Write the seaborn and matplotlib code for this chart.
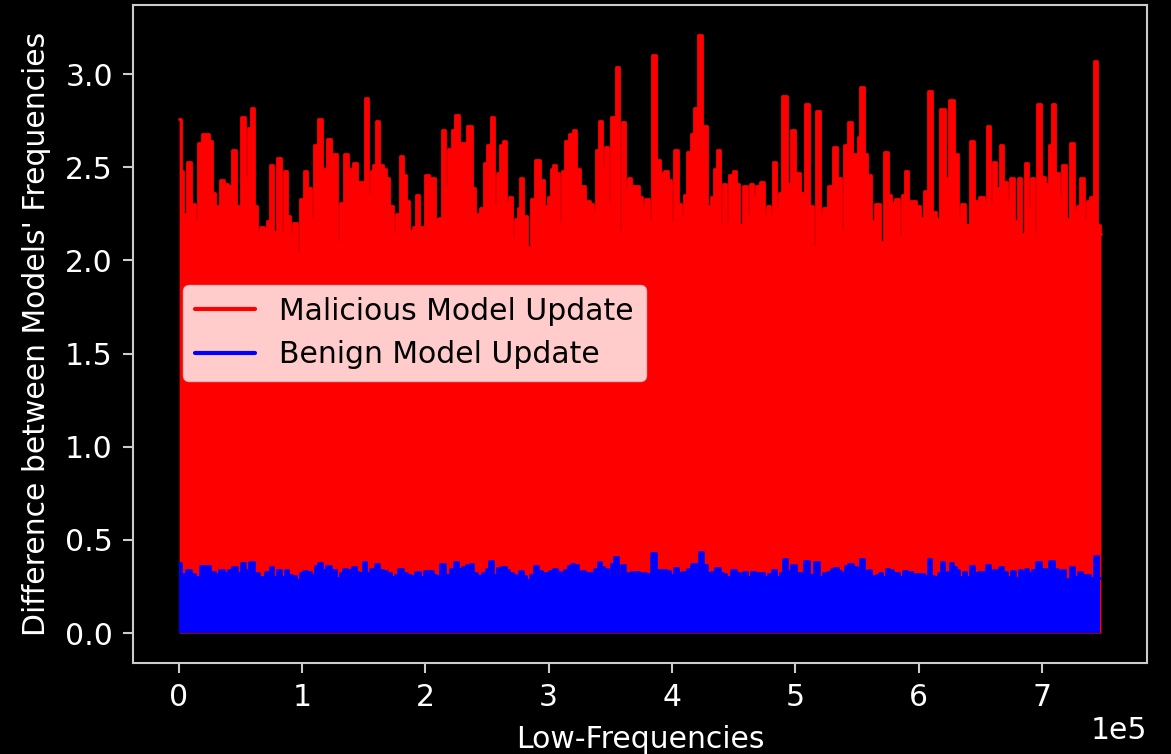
import numpy as np
import pandas as pd
import matplotlib
matplotlib.use("Agg")
import matplotlib.pyplot as plt
import seaborn as sns

# ---- data (upper envelope of the dense signals) ----
# positions are in thousands of low-frequency coefficients
malicious_pos_k = [
    0.4, 2.8, 4.2, 5.8, 8.5, 11.6, 14.7, 17.4, 20.1, 23.5, 26.2, 28.2, 30.1, 32.4, 35.5, 38.6,
    41.3, 44.7, 48.4, 52.1, 55.2, 57.1, 59.8, 62.5, 64.6, 67.7, 70.6, 72.4, 75.1, 78.3, 81.4, 83.9,
    86.2, 88.9, 91.3, 94.3, 97.0, 99.8, 102.8, 105.8, 108.5, 111.2, 114.7, 118.3, 122.0, 124.4,
    126.7, 129.4, 132.1, 135.5, 139.3, 142.9, 145.6, 148.0, 150.3, 152.6, 154.6, 156.7, 159.1,
    161.5, 164.2, 166.9, 169.6, 172.3, 174.6, 177.3, 180.9, 183.6, 185.6, 188.3, 191.3, 194.0,
    196.3, 198.5, 201.4, 204.2, 206.9, 209.6, 211.9, 214.4, 217.0, 220.3, 223.3, 225.6, 228.4,
    231.9, 235.8, 239.2, 241.6, 242.9,
    245.5, 248.9, 251.6, 254.3, 257.0, 259.3, 261.7, 264.4, 266.9, 269.3, 272.0, 274.0, 275.6,
    277.7, 280.6, 284.0, 287.4, 290.8, 294.5, 297.9, 300.6, 302.9, 304.9, 307.4, 309.8, 312.2,
    314.9, 317.9, 321.2, 323.9, 327.6, 331.7, 334.7, 337.1, 339.1, 341.8, 344.3, 346.7, 349.1,
    351.7, 354.0, 356.0, 358.0, 360.5, 363.2, 365.5, 368.4, 371.8, 374.9, 377.2, 379.9, 382.6,
    385.3, 388.4, 391.8, 395.4, 398.1, 400.2, 402.9, 406.2, 408.5, 410.6, 413.7, 416.8, 419.5,
    422.9, 426.6, 430.3, 433.3, 435.3, 437.6, 440.0, 442.4, 445.1, 447.8, 450.8, 453.5, 455.9,
    459.1, 461.8, 464.3, 466.8, 469.5, 473.1, 475.8, 478.5, 480.9, 483.2, 485.7, 487.8, 491.1,
    494.7, 498.2, 501.6,
    505.3, 509.7, 513.3, 515.5, 518.2, 521.1, 524.2, 528.3, 532.3, 536.1, 538.4, 540.7, 544.5,
    547.9, 549.9, 551.5, 554.2, 556.9, 559.6, 563.1, 566.8, 570.0, 573.5, 576.6, 578.9, 582.3,
    585.4, 587.4, 590.0, 593.0, 596.1, 599.5, 602.8, 605.9, 609.1, 612.4, 615.8, 619.3, 623.0,
    626.9, 630.3, 633.0, 636.3, 639.7, 643.1, 647.2, 651.2, 654.2, 656.6, 659.3, 661.9, 664.3,
    667.0, 670.4, 673.1, 675.8, 678.9, 681.6, 684.3, 687.4, 690.1, 692.8, 695.1, 697.4, 700.5,
    703.9, 706.8, 709.3, 712.4, 715.1, 718.1, 721.4, 724.5, 727.5, 729.8, 732.5, 735.2, 737.9,
    740.6, 743.3, 746.0, 747.8,
]
malicious_peaks = [
    2.76, 2.48, 2.25, 2.25, 2.53, 2.30, 2.21, 2.63, 2.68, 2.68, 2.64, 2.36, 2.26, 2.29, 2.43, 2.41,
    2.40, 2.59, 2.29, 2.77, 2.44, 2.71, 2.82, 2.29, 2.14, 2.18, 2.17, 2.21, 2.51, 2.15, 2.55, 2.15,
    2.48, 2.24, 2.14, 2.20, 2.04, 2.33, 2.48, 2.39, 2.22, 2.62, 2.76, 2.49, 2.65, 2.45, 2.57, 2.10,
    2.31, 2.57, 2.49, 2.52, 2.42, 2.42, 2.26, 2.87, 2.35, 2.48, 2.51, 2.75, 2.51, 2.49, 2.44, 2.29,
    2.14, 2.25, 2.56, 2.46, 2.32, 2.16, 2.18, 2.35, 2.18, 2.18, 2.46, 2.44, 2.44, 2.22, 2.23, 2.70,
    2.40, 2.60, 2.70, 2.78, 2.63, 2.63, 2.72, 2.39, 2.16, 2.25,
    2.28, 2.52, 2.62, 2.77, 2.29, 2.47, 2.62, 2.64, 2.31, 2.34, 2.12, 2.22, 2.28, 2.44, 2.24, 2.07,
    2.33, 2.54, 2.43, 2.29, 2.34, 2.49, 2.51, 2.47, 2.20, 2.48, 2.64, 2.68, 2.70, 2.49, 2.40, 2.32,
    2.30, 2.26, 2.59, 2.75, 2.49, 2.61, 2.31, 2.77, 2.39, 3.04, 2.15, 2.74, 2.39, 2.44, 2.40, 2.40,
    2.34, 2.28, 2.33, 2.21, 3.10, 2.54, 2.47, 2.48, 2.43, 2.20, 2.59, 2.30, 2.24, 2.35, 2.58, 2.68,
    2.82, 3.21, 2.72, 2.29, 2.34, 2.49, 2.59, 2.19, 2.41, 2.20, 2.46, 2.48, 2.41, 2.19, 2.40, 2.24,
    2.41, 2.34, 2.40, 2.42, 2.24, 2.29, 2.24, 2.53, 2.28, 2.36, 2.88, 2.41, 2.70, 2.47,
    2.36, 2.84, 2.29, 2.07, 2.80, 2.24, 2.28, 2.40, 2.61, 2.44, 2.16, 2.62, 2.74, 2.57, 2.53, 2.66,
    2.93, 2.57, 2.46, 2.21, 2.30, 2.10, 2.58, 2.35, 2.31, 2.33, 2.13, 2.35, 2.48, 2.32, 2.32, 2.29,
    2.23, 2.37, 2.91, 2.26, 2.22, 2.81, 2.44, 2.86, 2.57, 2.23, 2.30, 2.19, 2.64, 2.32, 2.34, 2.30,
    2.72, 2.30, 2.53, 2.39, 2.62, 2.42, 2.32, 2.44, 2.21, 2.44, 2.14, 2.52, 2.28, 2.44, 2.14, 2.84,
    2.45, 2.41, 2.62, 2.84, 2.47, 2.33, 2.51, 2.22, 2.63, 2.26, 2.29, 2.44, 2.21, 2.32, 2.34, 3.07,
    2.19, 2.14,
]

benign_pos_k = [
    0.4, 4.2, 8.2, 11.6, 15.0, 19.1, 23.8, 27.8, 30.5, 34.6, 38.6, 41.7, 45.1, 48.8, 52.5, 55.2,
    58.9, 62.9, 67.7, 72.4, 75.4, 78.3, 81.5, 84.6, 87.3, 90.6, 94.0, 97.0, 99.7, 102.4, 105.8,
    108.9, 111.6, 114.5, 117.9, 121.7, 125.8, 129.1, 131.8, 135.2, 138.6, 142.0, 145.3, 148.0,
    150.7, 153.4, 156.8, 160.9, 164.2, 167.6, 171.0, 173.7, 176.4, 179.8, 183.4, 186.8, 190.3,
    193.7, 197.3, 201.4, 204.8, 207.5, 210.4, 214.2, 218.0, 221.6, 225.0, 227.7, 231.1, 234.5,
    237.2, 240.2, 244.2, 247.7, 250.4, 253.7, 256.4, 259.5, 263.5, 266.9, 269.6, 272.3, 275.0,
    277.7, 280.4, 283.1, 286.1, 289.5, 292.6, 295.9, 299.3, 302.0, 305.4, 308.8, 311.5, 314.2,
    316.9, 319.6, 322.3, 325.0, 328.1, 331.5, 335.1, 338.5, 341.2, 343.9, 346.6, 349.3, 352.0,
    354.7, 357.4, 360.5, 363.9, 369.5,
    376.3, 381.0, 385.1, 388.5, 392.5, 397.2, 400.2, 402.9, 406.7, 410.3, 413.7, 417.5, 420.5,
    423.2, 426.5, 429.9, 433.4, 437.1, 440.1, 442.8, 445.5, 449.5, 453.6, 456.3, 459.6, 462.7,
    465.9, 469.5, 473.1, 476.3, 479.4, 483.0, 486.2, 488.4, 491.1, 494.8, 498.5, 501.9, 505.3,
    509.3, 513.4, 517.4, 520.8, 524.2, 527.6, 530.3, 533.0, 536.1, 538.8, 541.1, 544.5, 548.5,
    551.2, 553.9, 557.3, 560.0, 563.4, 566.7, 569.2, 571.9, 574.8, 577.6, 580.3, 583.0, 585.7,
    589.0, 592.4, 597.1, 602.5, 605.9, 608.6, 611.3, 614.0, 616.7, 619.4, 622.1, 624.2, 626.2,
    628.9, 631.6, 634.3, 637.2, 639.9, 643.1, 646.8, 650.2, 653.2, 656.2, 658.9, 661.3, 664.0,
    667.0, 670.3, 673.0, 676.1, 679.7, 682.4, 684.7, 687.4, 690.7, 693.7, 697.1, 700.9, 704.2,
    707.9, 711.3, 714.0, 717.3, 720.7, 724.1, 727.5, 730.6, 734.0, 737.6, 740.6, 743.3, 746.8,
]
benign_peaks = [
    0.375, 0.315, 0.338, 0.315, 0.30, 0.36, 0.36, 0.33, 0.315, 0.338, 0.32, 0.338, 0.354, 0.32,
    0.377, 0.338, 0.379, 0.32, 0.30, 0.33, 0.354, 0.30, 0.34, 0.30, 0.338, 0.31, 0.305, 0.284,
    0.32, 0.335, 0.326, 0.31, 0.36, 0.377, 0.34, 0.36, 0.34, 0.293, 0.32, 0.345, 0.34, 0.354,
    0.33, 0.32, 0.384, 0.32, 0.342, 0.373, 0.338, 0.335, 0.32, 0.30, 0.31, 0.345, 0.32, 0.31,
    0.305, 0.33, 0.30, 0.335, 0.335, 0.31, 0.305, 0.37, 0.31, 0.345, 0.379, 0.345, 0.354, 0.364,
    0.37, 0.325, 0.305, 0.32, 0.345, 0.387, 0.31, 0.348, 0.354, 0.34, 0.32, 0.31, 0.30, 0.335,
    0.305, 0.284, 0.31, 0.36, 0.335, 0.32, 0.32, 0.335, 0.345, 0.33, 0.30, 0.34, 0.36, 0.37,
    0.364, 0.325, 0.335, 0.32, 0.32, 0.345, 0.379, 0.354, 0.345, 0.30, 0.37, 0.41, 0.30, 0.368,
    0.325, 0.33,
    0.32, 0.315, 0.432, 0.34, 0.34, 0.335, 0.31, 0.35, 0.32, 0.33, 0.345, 0.37, 0.373, 0.436,
    0.364, 0.32, 0.33, 0.348, 0.32, 0.315, 0.30, 0.338, 0.32, 0.30, 0.326, 0.30, 0.326, 0.32,
    0.325, 0.30, 0.315, 0.338, 0.30, 0.325, 0.396, 0.335, 0.368, 0.325, 0.32, 0.387, 0.31, 0.384,
    0.30, 0.32, 0.33, 0.345, 0.35, 0.335, 0.32, 0.36, 0.37, 0.354, 0.33, 0.396, 0.335, 0.34,
    0.305, 0.31, 0.32, 0.30, 0.345, 0.338, 0.32, 0.325, 0.30, 0.335, 0.33, 0.315, 0.315, 0.305,
    0.40, 0.305, 0.30, 0.32, 0.379, 0.32, 0.33, 0.377, 0.354, 0.338, 0.30, 0.326, 0.30, 0.36,
    0.32, 0.326, 0.33, 0.364, 0.326, 0.338, 0.335, 0.354, 0.326, 0.30, 0.335, 0.295, 0.338, 0.31,
    0.345, 0.32, 0.338, 0.384, 0.345, 0.345, 0.389, 0.345, 0.32, 0.338, 0.29, 0.354, 0.30, 0.326,
    0.31, 0.31, 0.295, 0.416, 0.296,
]

series_labels = ["Malicious Model Update", "Benign Model Update"]
series_colors = ["#ff0000", "#0000ff"]
x_label = "Low-Frequencies"
y_label = "Difference between Models' Frequencies"
x_ticks = [0, 1e5, 2e5, 3e5, 4e5, 5e5, 6e5, 7e5]
y_ticks = [0.0, 0.5, 1.0, 1.5, 2.0, 2.5, 3.0]


def frame(pos_k, vals):
    n = min(len(pos_k), len(vals))
    return pd.DataFrame({"freq": np.asarray(pos_k[:n]) * 1000.0,
                         "diff": np.asarray(vals[:n], dtype=float)})


mal = frame(malicious_pos_k, malicious_peaks)
ben = frame(benign_pos_k, benign_peaks)

# ---- style ----
plt.style.use("dark_background")
FS = 21.5
plt.rcParams.update({
    "font.family": ["DejaVu Sans"],
    "font.size": FS,
    "axes.edgecolor": "#cccccc",
    "axes.linewidth": 1.5,
    "xtick.color": "#cccccc",
    "ytick.color": "#cccccc",
    "xtick.labelcolor": "white",
    "ytick.labelcolor": "white",
    "xtick.major.size": 7.5,
    "ytick.major.size": 7.5,
    "xtick.major.width": 1.5,
    "ytick.major.width": 1.5,
    "xtick.major.pad": 7,
    "ytick.major.pad": 7,
    "axes.facecolor": "black",
    "figure.facecolor": "black",
})

fig = plt.figure(figsize=(11.71, 7.54), dpi=100)
ax = fig.add_axes([0.1136, 0.1207, 0.8659, 0.8727])

for df, lab, col in [(mal, series_labels[0], series_colors[0]),
                     (ben, series_labels[1], series_colors[1])]:
    ax.fill_between(df["freq"], 0, df["diff"], step="mid", color=col, linewidth=0)
    sns.lineplot(data=df, x="freq", y="diff", ax=ax, color=col, label=lab,
                 drawstyle="steps-mid", linewidth=2.0, solid_capstyle="round")

ax.margins(x=0.05, y=0.05)
ax.set_xticks(x_ticks)
ax.set_yticks(y_ticks)
ax.ticklabel_format(axis="x", style="sci", scilimits=(0, 0), useMathText=False)
ax.xaxis.get_offset_text().set_fontsize(FS)
ax.xaxis.get_offset_text().set_color("white")

ax.set_xlabel(x_label, color="white", fontsize=FS, labelpad=9)
ax.set_ylabel(y_label, color="white", fontsize=FS, labelpad=10)

leg = ax.legend(loc="center left", bbox_to_anchor=(0.035, 0.5015), fontsize=FS,
                facecolor="white", edgecolor="#cccccc", framealpha=0.8,
                handlelength=2.0)
for t in leg.get_texts():
    t.set_color("black")
for h in leg.get_lines():
    h.set_linewidth(3.0)

fig.savefig("out.png", dpi=100, facecolor="black")
